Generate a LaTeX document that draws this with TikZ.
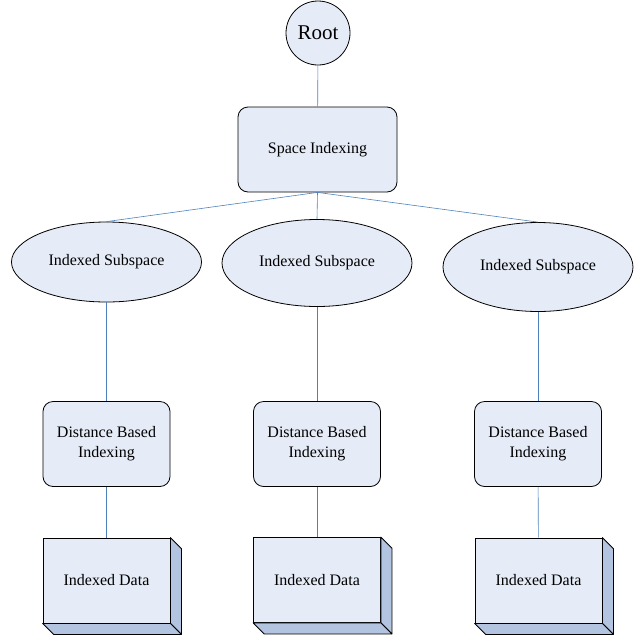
\documentclass[tikz,border=0pt]{standalone}
\usepackage{fontspec}
\setmainfont{Liberation Serif}
\usetikzlibrary{shapes.geometric}
\definecolor{boxfill}{RGB}{230,236,247}
\definecolor{sidefill}{RGB}{178,196,224}
\definecolor{linkblue}{RGB}{79,129,189}
\tikzset{link/.style = {draw=linkblue, line width=0.6pt}}
\tikzset{rootnode/.style = {draw, circle, fill=boxfill, line width=0.8pt, inner sep = 0,
                            minimum size=64pt, font=\fontsize{21}{24}\selectfont}}
\tikzset{rbox/.style = {draw, rectangle, rounded corners=10pt, fill=boxfill, line width=0.8pt,
                        inner sep = 0, align=center, minimum height=85pt,
                        font=\fontsize{16}{20}\selectfont}}
\tikzset{subnode/.style = {draw, ellipse, fill=boxfill, line width=0.8pt, inner sep = 0,
                           minimum width=190pt, font=\fontsize{16}{20}\selectfont}}
\tikzset{databox/.style = {draw, rectangle, fill=boxfill, line width=0.8pt, inner sep = 0,
                           minimum width=127pt, minimum height=85pt,
                           font=\fontsize{16}{20}\selectfont}}
\tikzset{side/.style = {draw, fill=sidefill, line width=0.8pt, line join=round}}

\begin{document}
\begin{tikzpicture}[x=1pt, y=-1pt]
      \useasboundingbox (0,0) rectangle (637,638);
      \node [rootnode] (root) at (318,33) {Root};
      \node [rbox, minimum width=159pt] (space) at (317.5,149.5) {Space Indexing};
      \node [subnode, minimum height=80pt] (sub1) at (106.5,262) {Indexed Subspace};
      \node [subnode, minimum height=87pt] (sub2) at (317,263) {Indexed Subspace};
      \node [subnode, minimum height=89pt] (sub3) at (538,267) {Indexed Subspace};
      \node [rbox, minimum width=127pt] (dist1) at (106.5,444) {Distance Based\\Indexing};
      \node [rbox, minimum width=127pt] (dist2) at (317,444) {Distance Based\\Indexing};
      \node [rbox, minimum width=127pt] (dist3) at (538,444) {Distance Based\\Indexing};
      \node [databox] (data1) at (106.5,580.5) {Indexed Data};
      \node [databox] (data2) at (317,580) {Indexed Data};
      \node [databox] (data3) at (538.5,580.5) {Indexed Data};
      % side faces of the data blocks
      \foreach \d in {data1, data2, data3} {
        \draw [side] (\d.north east) -- ++(11,11) -- ([shift={(11,11)}]\d.south east)
                     -- (\d.south east) -- cycle;
        \draw [side] (\d.south west) -- (\d.south east) -- ++(11,11)
                     -- ([shift={(11,11)}]\d.south west) -- cycle;
      }
      \draw [link] (root) -- (space);
      \draw [link] (space.south) -- (sub1.north);
      \draw [link] (space.south) -- (sub2.north);
      \draw [link] (space.south) -- (sub3.north);
      \draw [link] (sub1) -- (dist1);
      \draw [link] (sub2) -- (dist2);
      \draw [link] (sub3) -- (dist3);
      \draw [link] (dist1) -- (data1);
      \draw [link] (dist2) -- (data2);
      \draw [link] (dist3) -- (data3);
    \end{tikzpicture}
\end{document}
